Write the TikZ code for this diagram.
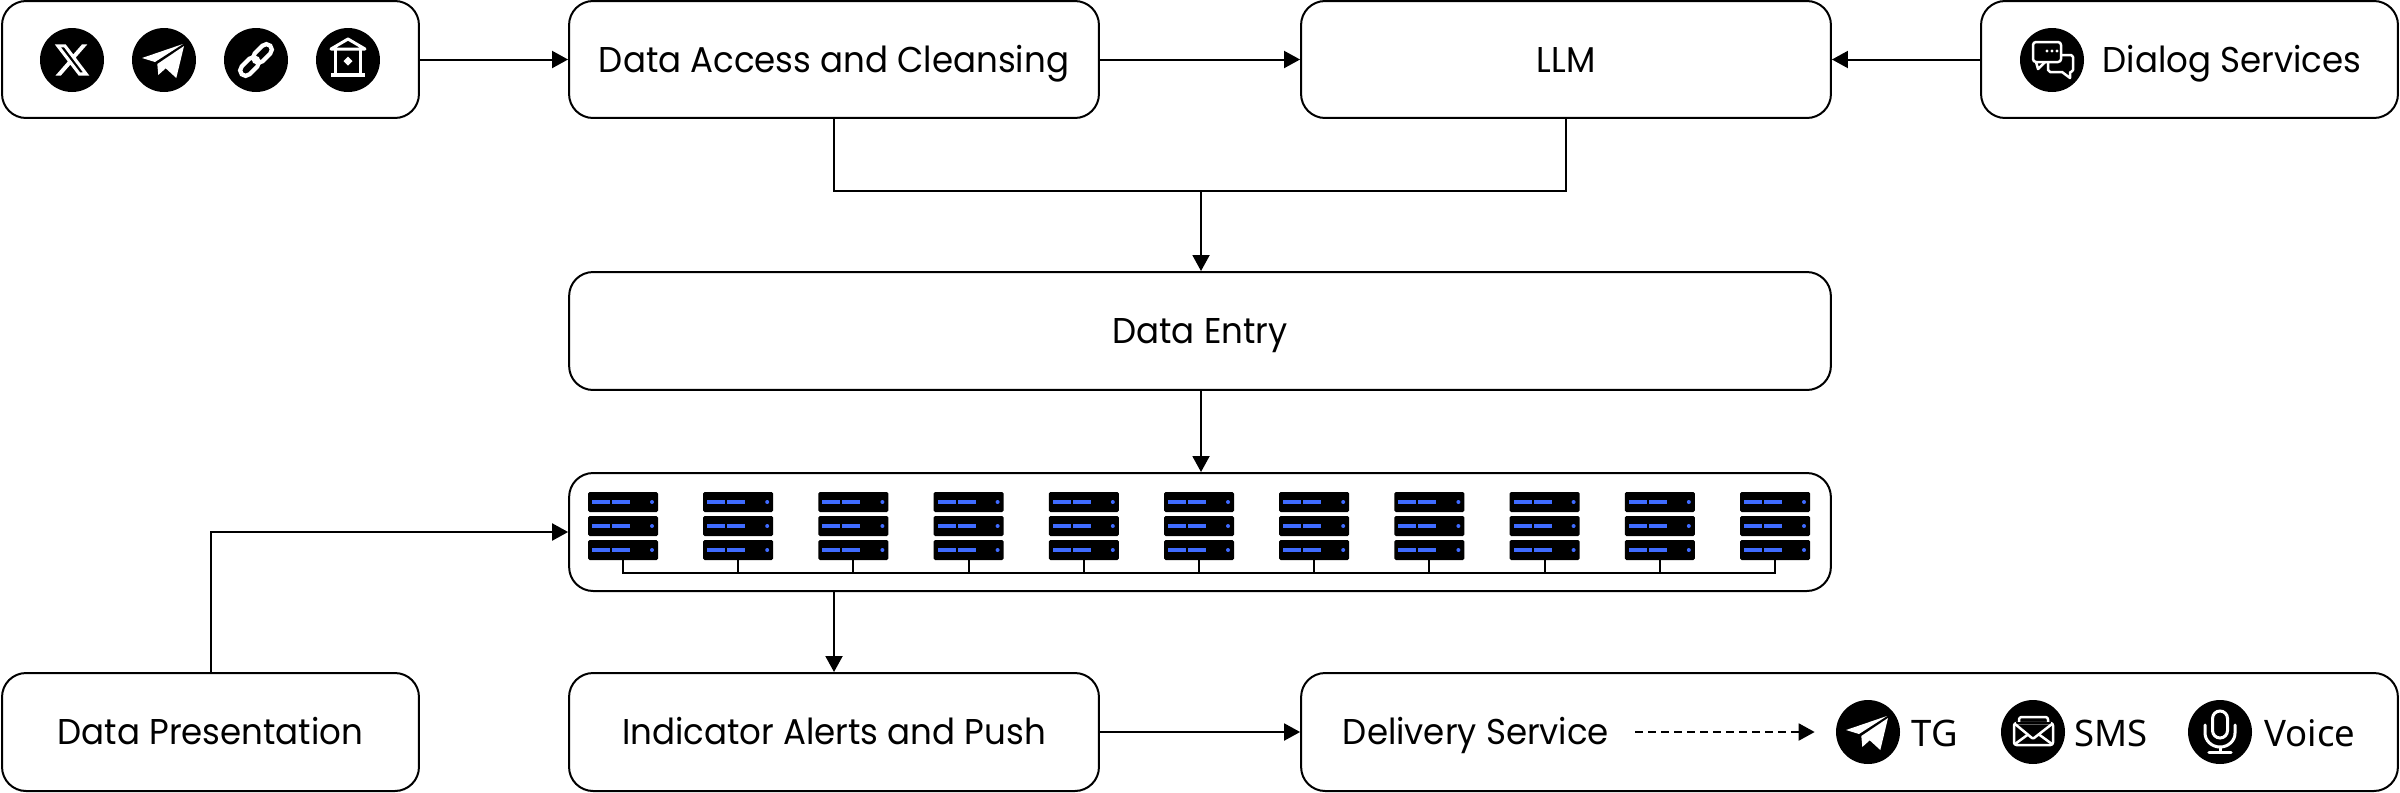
\documentclass[tikz,border=0pt]{standalone}
\usepackage{fontspec}
\setmainfont{Poppins}[FakeStretch=0.95]
\newfontfamily\labelfont{Noto Sans}
\usetikzlibrary{arrows.meta,calc}
\definecolor{srvblue}{HTML}{3F6BFF}
\tikzset{
  box/.style={draw=black,line width=0.04cm,rounded corners=0.48cm,fill=white,inner sep=0pt,font=\fontsize{20.4}{24}\selectfont,text=black,text height=14.4pt,text depth=0pt},
  plain/.style={inner sep=0pt,font=\fontsize{20.4}{24}\selectfont,text=black,text height=14.4pt,text depth=0pt},
  small/.style={inner sep=0pt,anchor=west,font=\labelfont\fontsize{20.8}{24}\selectfont,text height=14.8pt,text depth=0pt},
  badge/.style={circle,fill=black,minimum size=1.28cm,inner sep=0pt},
  wire/.style={line width=0.04cm,draw=black},
  link/.style={wire,-{Triangle[length=0.32cm,width=0.34cm]}},
  gl/.style={draw=white,line width=0.06cm,line join=round,line cap=round},
  rack/.style={fill=black,rounded corners=0.03cm,draw=none,minimum width=1.4cm,minimum height=0.4cm,inner sep=0pt},
}
\newcommand{\rackbar}[2]{%
  \fill[srvblue] (#1+4,#2-2) rectangle (#1+22,#2+2);
  \fill[srvblue] (#1+24,#2-2) rectangle (#1+42,#2+2);
  \fill[srvblue] (#1+64,#2) circle (2);
}
\begin{document}
\begin{tikzpicture}[x=0.02cm,y=-0.02cm]
\useasboundingbox (0,0) rectangle (2400,792);
% main boxes
\node[box,minimum width=8.34cm,minimum height=2.34cm] (src) at (210.5,59.5) {};
\node[box,minimum width=10.6cm,minimum height=2.34cm] (acc) at (834,59.5) {Data Access and Cleansing};
\node[box,minimum width=10.6cm,minimum height=2.34cm] (llm) at (1566,59.5) {LLM};
\node[box,minimum width=8.34cm,minimum height=2.34cm] (dlg) at (2189.5,59.5) {};
\node[box,minimum width=25.24cm,minimum height=2.36cm] (entry) at (1200,331) {Data Entry};
\node[box,minimum width=25.24cm,minimum height=2.36cm] (srv) at (1200,532) {};
\node[box,minimum width=8.34cm,minimum height=2.36cm] (pres) at (210.5,732) {Data Presentation};
\node[box,minimum width=10.6cm,minimum height=2.36cm] (ind) at (834,732) {Indicator Alerts and Push};
\node[box,minimum width=21.94cm,minimum height=2.36cm] (dlv) at (1849.5,732) {};
% text in composite boxes
\node[plain] (dlgtext) at (2232,59.5) {Dialog Services};
\node[plain] (dlvtext) at (1476,732) {Delivery Service};
\node[small] (tgt) at (1911,733) {TG};
\node[small] (smst) at (2074,733) {SMS};
\node[small] (vct) at (2264,733) {Voice};
% badges
\node[badge] (bx) at (72,60) {};
\node[badge] (bp) at (164,60) {};
\node[badge] (bl) at (256,60) {};
\node[badge] (bh) at (348,60) {};
\node[badge] (bd) at (2052,60) {};
\node[badge] (btg) at (1868,732) {};
\node[badge] (bsms) at (2033,732) {};
\node[badge] (bv) at (2220,732) {};
% X glyph
\begin{scope}[shift={(72,60)},scale=1.6,shift={(-12,-12)}]
\fill[white,even odd rule] (18.244,2.25)--(21.552,2.25)--(14.325,10.51)--(22.827,21.75)--(16.17,21.75)--(10.956,14.933)--(4.99,21.75)--(1.68,21.75)--(9.41,12.915)--(1.254,2.25)--(8.08,2.25)--(12.793,8.481)--cycle
 (17.083,19.77)--(18.916,19.77)--(7.084,4.126)--(5.117,4.126)--cycle;
\end{scope}
% plane glyphs
\foreach \cx/\cy in {164/60,1868/732}{
\begin{scope}[shift={(\cx,\cy)}]
\fill[white] (19,-16)--(-22,-2)--(-9,2)--cycle;
\fill[white] (20,-14)--(12.3,18)--(1.7,8.3)--(-5.7,15)--(-6.7,4)--cycle;
\end{scope}}
% chain glyph
\begin{scope}[shift={(256,60)}]
\begin{scope}[shift={(-6.5,6.5)},rotate=45]
\draw[draw=white,line width=0.085cm,rounded corners=0.11cm] (-11,-5.5) rectangle (11,5.5);
\end{scope}
\begin{scope}[shift={(6.5,-6.5)},rotate=45]
\draw[draw=white,line width=0.085cm,rounded corners=0.11cm] (-11,-5.5) rectangle (11,5.5);
\end{scope}
\end{scope}
% building glyph
\begin{scope}[shift={(348,60)}]
\draw[gl] (-17,-11)--(0,-21)--(17,-11)--cycle;
\draw[gl,line cap=butt] (-12.5,-11)--(-12.5,14) (12.5,-11)--(12.5,14);
\draw[gl,line width=0.08cm,line cap=butt] (-17,14.5)--(17,14.5);
\fill[white] (0,-3.5)--(4.5,1)--(0,5.5)--(-4.5,1)--cycle;
\end{scope}
% dialog glyph
\begin{scope}[shift={(2052,60)}]
\draw[draw=white,line width=0.05cm,line join=round,rounded corners=0.06cm] (-19,-18) rectangle (9,2);
\draw[draw=white,line width=0.05cm,line join=round] (-16,2)--(-14,9)--(-7,2);
\draw[draw=white,line width=0.05cm,line join=round] (9,-5)--(19,-5)--(21,-3)--(21,10)--(19,12)--(18,12)--(18,18)--(10,12)--(-2,12)--(-4,10)--(-4,2);
\fill[white] (-5,-9) circle (1.7) (0,-9) circle (1.7) (5,-9) circle (1.7);
\end{scope}
% envelope glyph
\begin{scope}[shift={(2033,732)}]
\draw[draw=white,line width=0.05cm,line join=round,rounded corners=0.05cm] (-19,-9) rectangle (20,13);
\draw[draw=white,line width=0.05cm,line join=round,rounded corners=0.05cm] (-14,-9)--(-14,-15)--(15,-15)--(15,-9);
\fill[black] (-17,-8) rectangle (18,-10.5);
\draw[draw=white,line width=0.05cm,line join=round] (-18,-8)--(-1,6)--(1,6)--(19,-8);
\draw[draw=white,line width=0.05cm] (-18,12)--(-5,2.5) (19,12)--(6,2.5);
\end{scope}
% microphone glyph
\begin{scope}[shift={(2220,732)}]
\draw[draw=white,line width=0.06cm] (-7.5,-13.5)arc[start angle=180,end angle=360,x radius=7.5,y radius=7.5]--(7.5,-1.5)arc[start angle=0,end angle=180,x radius=7.5,y radius=7.5]--cycle;
\draw[draw=white,line width=0.06cm,line cap=round] (-15,-7)--(-15,1)arc[start angle=180,end angle=360,x radius=15,y radius=-14]--(15,-7);
\draw[draw=white,line width=0.06cm] (0,15)--(0,20);
\draw[draw=white,line width=0.065cm,line cap=round] (-11,20.5)--(11,20.5);
\end{scope}
% servers
\foreach \i in {0,...,10}{
  \pgfmathsetmacro{\sx}{588+115.2*\i}
  \node[rack] (ra\i) at (\sx+35,502) {};
  \node[rack] (rb\i) at (\sx+35,526) {};
  \node[rack] (rc\i) at (\sx+35,550) {};
  \rackbar{\sx}{502}
  \rackbar{\sx}{526}
  \rackbar{\sx}{550}
}
% server bus
\coordinate (bus) at (623,573);
\draw[wire] (rc0.south) |- (rc10.south |- bus) -- (rc10.south);
\foreach \i in {1,...,9}{\draw[wire] (rc\i.south) -- (rc\i.south |- bus);}
% connectors
\draw[link] (src.east) -- (acc.west);
\draw[link] (acc.east) -- (llm.west);
\draw[link] (dlg.west) -- (llm.east);
\coordinate (mrg) at (1201,191);
\draw[wire] (acc.south) |- (mrg);
\draw[wire] (llm.south) |- (mrg);
\draw[link] (mrg) -- (mrg |- entry.north);
\draw[link] (mrg |- entry.south) -- (mrg |- srv.north);
\draw[link] (pres.north) |- (srv.west);
\draw[link] (ind.north |- srv.south) -- (ind.north);
\draw[link] (ind.east) -- (dlv.west);
\draw[link,dash pattern=on 0.16cm off 0.1cm,shorten <=0.52cm,shorten >=0.42cm] (dlvtext.east) -- (btg.west);
\end{tikzpicture}
\end{document}
